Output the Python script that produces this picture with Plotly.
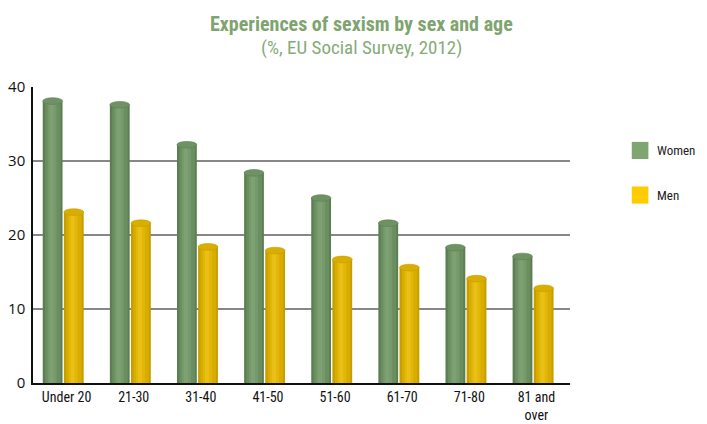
import plotly.graph_objects as go

categories = ["Under 20", "21-30", "31-40", "41-50", "51-60", "61-70", "71-80", "81 and<br>over"]
women = [38.1, 37.6, 32.2, 28.4, 25.0, 21.6, 18.3, 17.1]
men = [23.1, 21.6, 18.4, 17.9, 16.7, 15.6, 14.1, 12.8]
y_ticks = [0, 10, 20, 30, 40]
grid_vals = [10, 20, 30]

# shading layers: (start fraction, end fraction, colour) across each cylinder
series = [
    dict(name="Women", values=women, offset=-0.355, width=0.295,
         layers=[(0.0, 1.0, "#5b7f53"), (0.12, 0.9, "#6a8e60"), (0.25, 0.7, "#769a6b"), (0.35, 0.55, "#7ea172")],
         cap="#6e9264", legend="#7fa570"),
    dict(name="Men", values=men, offset=-0.04, width=0.295,
         layers=[(0.0, 1.0, "#c69e00"), (0.12, 0.9, "#d8ad00"), (0.25, 0.7, "#e2b708"), (0.35, 0.55, "#e9c018")],
         cap="#d8ae00", legend="#ffcc00"),
]

FONT_N = "Roboto Condensed, Liberation Sans Narrow, Arial Narrow, Roboto, sans-serif"
fig = go.Figure()
shapes = []
for s in series:
    for k, (a, b, col) in enumerate(s["layers"]):
        fig.add_trace(go.Bar(
            x=categories, y=s["values"], name=s["name"], showlegend=False,
            offset=s["offset"] + a * s["width"], width=(b - a) * s["width"],
            marker=dict(color=col, line=dict(width=0)),
            hoverinfo="skip" if k else "x+y+name",
        ))
    for i, v in enumerate(s["values"]):
        x0 = i + s["offset"]
        shapes.append(dict(type="circle", xref="x", yref="y",
                           x0=x0, x1=x0 + s["width"], y0=v - 0.45, y1=v + 0.45,
                           fillcolor=s["cap"], line=dict(width=0.6, color=s["layers"][0][2]),
                           layer="above"))

for g in grid_vals:
    shapes.append(dict(type="line", xref="paper", yref="y", x0=0, x1=1, y0=g, y1=g,
                       line=dict(color="#111111", width=1.2), layer="below"))

annotations = []
legend_y = [0.7855, 0.635]
for s, ly in zip(series, legend_y):
    shapes.append(dict(type="rect", xref="paper", yref="paper",
                       x0=1.115, x1=1.146, y0=ly - 0.029, y1=ly + 0.029,
                       fillcolor=s["legend"], line=dict(width=0)))
    annotations.append(dict(text=s["name"], xref="paper", yref="paper", x=1.158, y=ly,
                            xanchor="left", yanchor="middle", showarrow=False,
                            font=dict(family=FONT_N, size=13, color="#222222")))

annotations.append(dict(text="<b>Experiences of sexism by sex and age</b>",
                        xref="paper", yref="paper", x=0.611, y=1.213,
                        xanchor="center", yanchor="middle", showarrow=False,
                        font=dict(family=FONT_N, size=20, color="#7ea46f")))
annotations.append(dict(text="(%, EU Social Survey, 2012)",
                        xref="paper", yref="paper", x=0.611, y=1.133,
                        xanchor="center", yanchor="middle", showarrow=False,
                        font=dict(family=FONT_N, size=19, color="#86ab78")))

fig.update_layout(
    width=699, height=416,
    barmode="overlay",
    plot_bgcolor="white", paper_bgcolor="white",
    margin=dict(l=25, r=137, t=79, b=41),
    shapes=shapes, annotations=annotations,
    showlegend=False,
    xaxis=dict(type="category", range=[-0.5, len(categories) - 0.5], automargin=False,
               showline=True, linecolor="#111111", linewidth=2,
               showgrid=False, ticks="", tickfont=dict(family=FONT_N, size=14, color="#111111")),
    yaxis=dict(range=[0, 40], tickvals=y_ticks, showgrid=False, zeroline=False, automargin=False,
               showline=True, linecolor="#111111", linewidth=1.5, ticks="",
               ticklabelstandoff=3,
               tickfont=dict(family="Open Sans, sans-serif", size=15, color="#111111")),
)
fig.write_html("out.html")
